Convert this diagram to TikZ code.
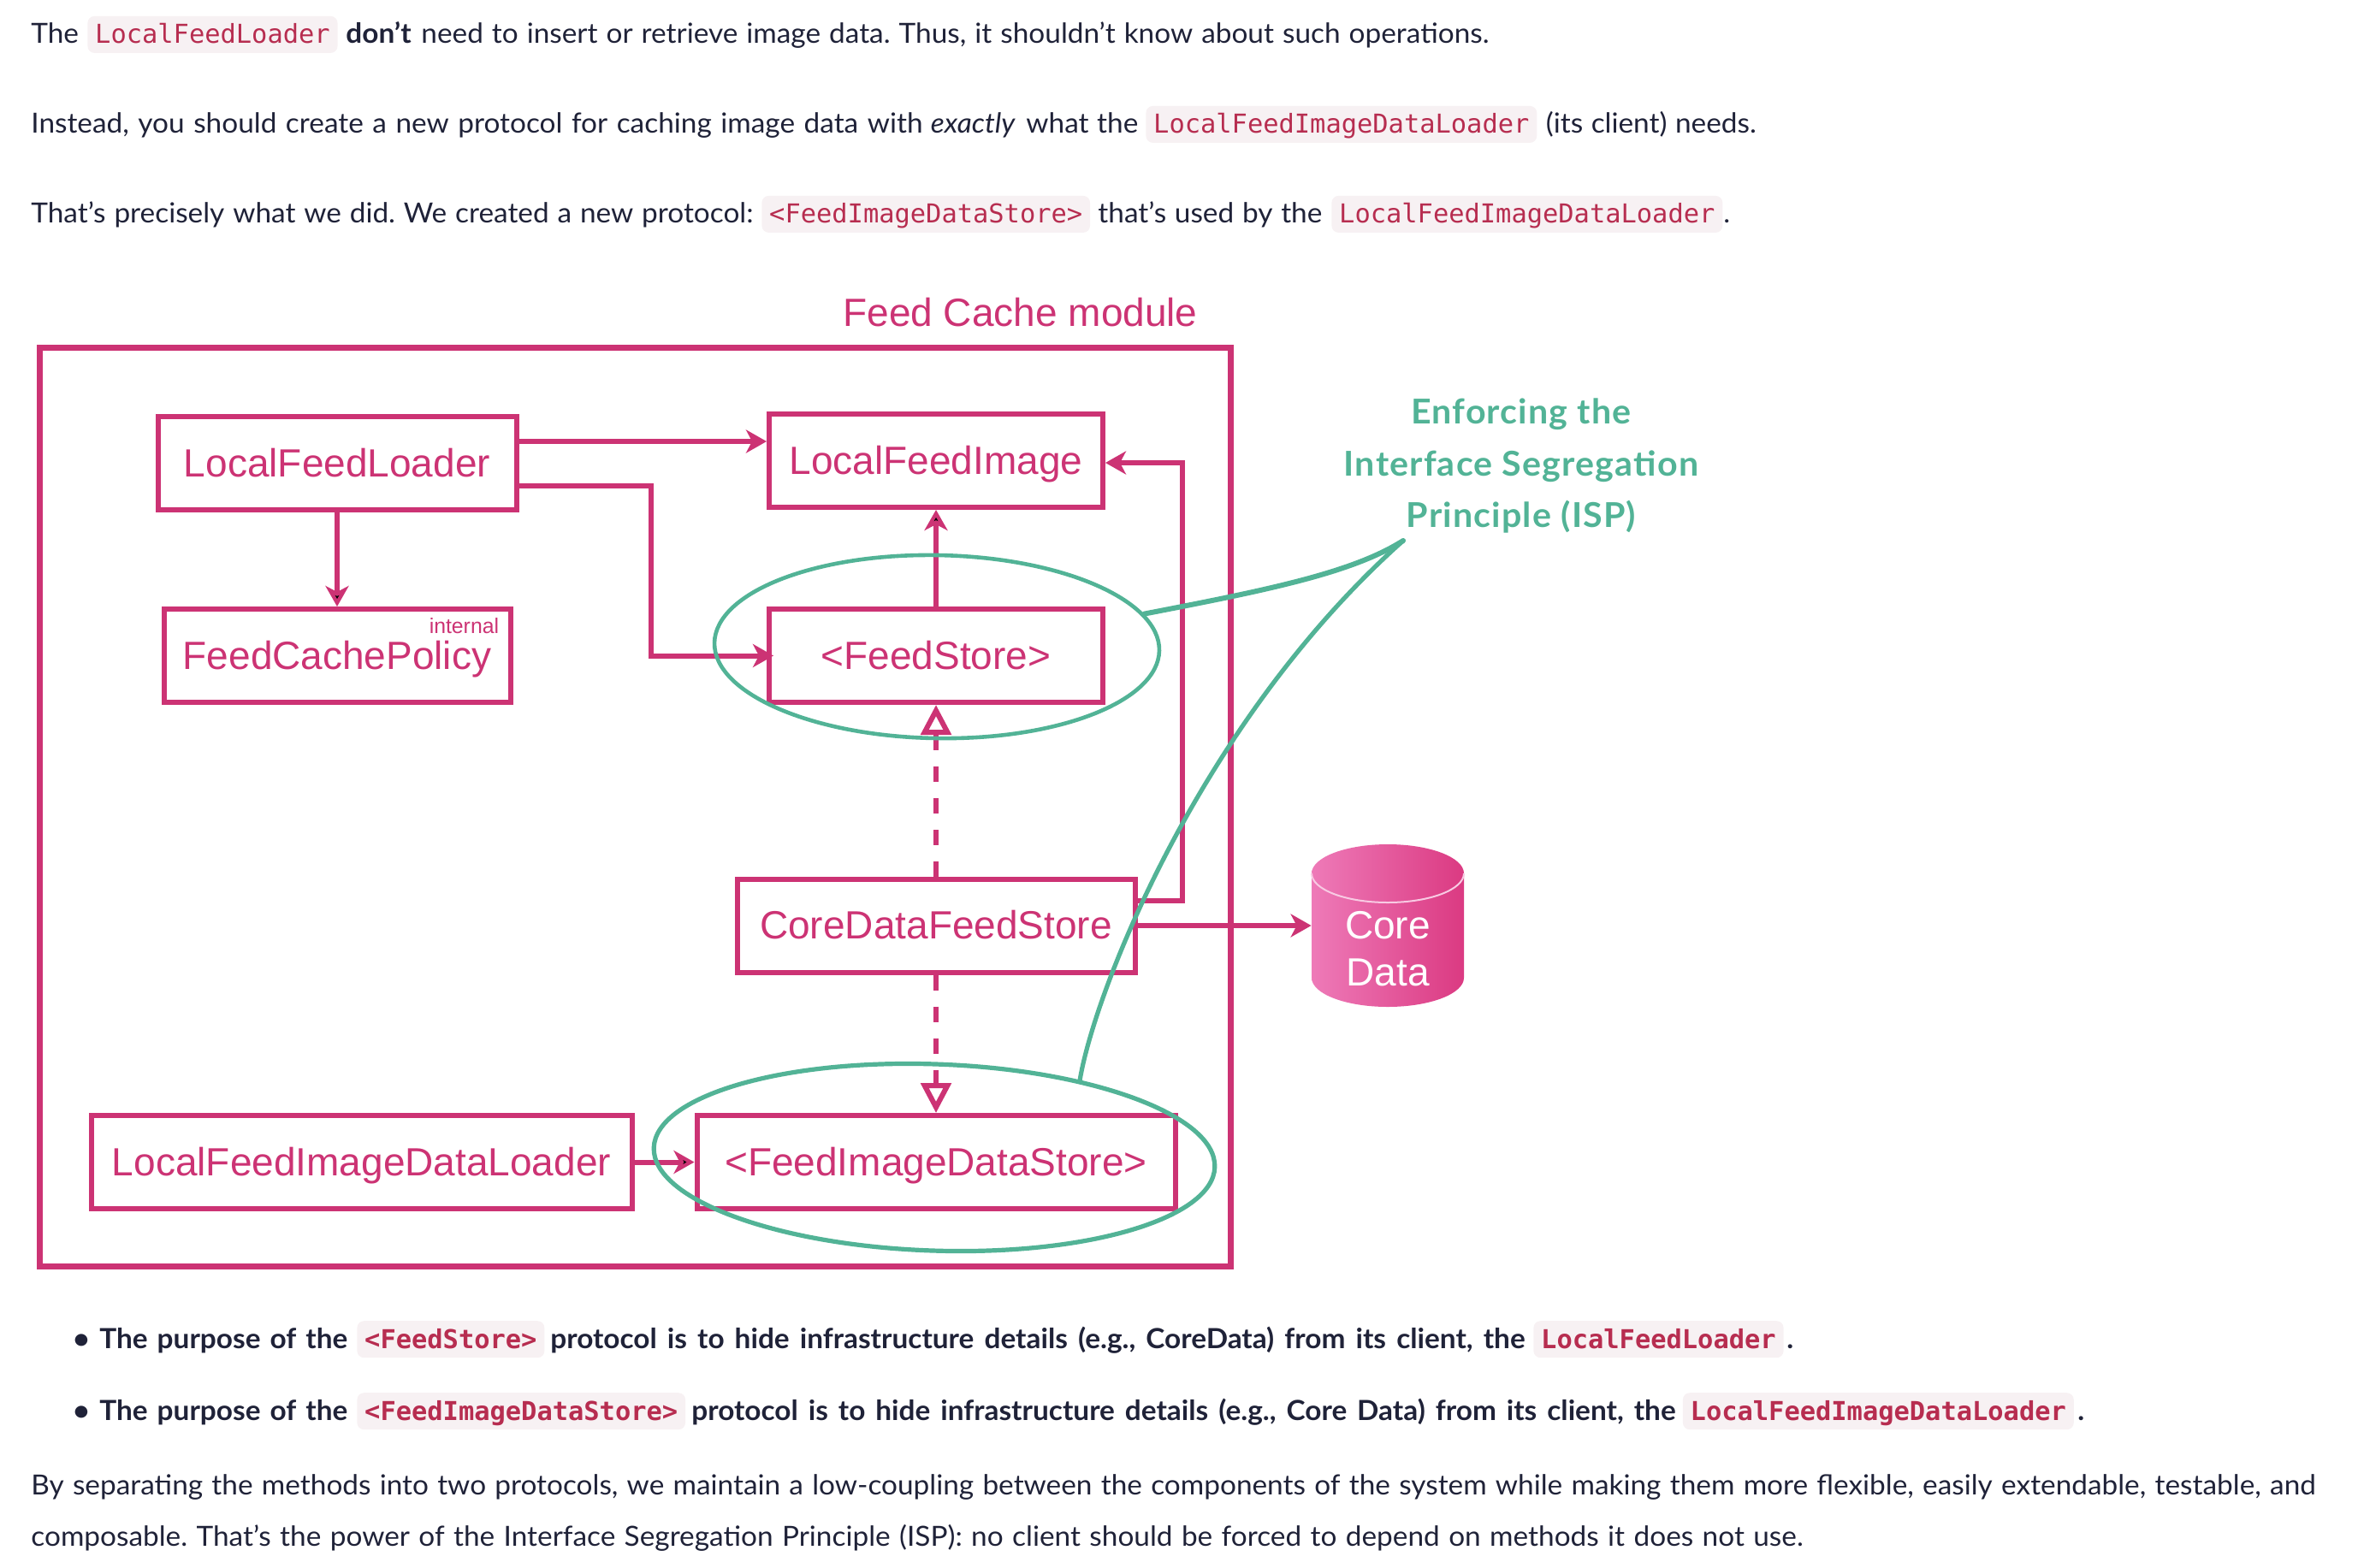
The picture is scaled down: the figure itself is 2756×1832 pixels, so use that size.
\documentclass[tikz,border=0pt]{standalone}
\usepackage{fontspec}
\setmainfont{Lato}[FakeStretch=1.03]
\setmonofont{DejaVu Sans Mono}
\newfontfamily\diagramfont{Liberation Sans}
\usepackage{xcolor}
\usetikzlibrary{arrows.meta,shapes.geometric}
\frenchspacing

\definecolor{feedpink}{HTML}{CC3374}
\definecolor{storelight}{HTML}{EE7AB8}
\definecolor{storedark}{HTML}{DB3A82}
\definecolor{ispgreen}{HTML}{52B396}
\definecolor{inktext}{HTML}{1F2238}
\definecolor{codered}{HTML}{B72D50}
\definecolor{codebg}{HTML}{F7F1F3}

\newcommand{\fitw}[2]{\makebox[\dimexpr #1pt/2\relax][s]{#2}}

\tikzset{
    prose/.style={anchor=base west,inner sep=0pt,text=inktext,font=\fontsize{16.2}{18}\selectfont},
    prosebold/.style={prose,font=\bfseries\fontsize{16.2}{18}\selectfont},
    code/.style={anchor=base west,fill=codebg,rounded corners=4pt,text=codered,inner xsep=4.4pt,inner ysep=2pt,
        text height=13.9pt,text depth=3.6pt,font=\ttfamily\fontsize{15.2}{18}\selectfont},
    codebold/.style={code,font=\ttfamily\bfseries\fontsize{15.2}{18}\selectfont},
    component/.style={rectangle,draw=feedpink,line width=3pt,text=feedpink,inner sep=0pt,minimum height=54.5pt,
        text height=15.5pt,text depth=0pt,font=\diagramfont\fontsize{23}{28}\selectfont},
    ring/.style={ellipse,draw=ispgreen,line width=2.3pt,inner sep=0pt},
    flow/.style={draw=feedpink,line width=3pt,-{Stealth[length=12pt,width=13.5pt,inset=3.5pt]}},
    impl/.style={draw=feedpink,line width=3pt,dash pattern=on 9pt off 9.5pt,-{Triangle[length=17.5pt,width=17.5pt,fill=white]}},
    callout/.style={draw=ispgreen,line cap=round},
    isptext/.style={text=ispgreen,inner sep=0pt,anchor=base,font=\bfseries\fontsize{20}{22}\selectfont\addfontfeature{LetterSpace=2.9}}
}

\begin{document}
\begin{tikzpicture}[x=0.5pt,y=-0.5pt]
    \useasboundingbox (0,0) rectangle (2756,1832);

    \node [prose,name=introa] at (36,50.7) {The};
    \node [code,name=introb] at (102,50.7) {LocalFeedLoader};
    \node [prosebold,name=introc] at (404,50.7) {don’t};
    \node [prose,name=introd] at (492,50.7) {\fitw{1248}{need to insert or retrieve image data. Thus, it shouldn’t know about such operations.}};

    \node [prose,name=insteada] at (36,155.7) {\fitw{1042}{Instead, you should create a new protocol for caching image data with}};
    \node [prose,name=insteadb,font=\itshape\fontsize{16.2}{18}\selectfont] at (1087.5,155.7) {exactly};
    \node [prose,name=insteadc] at (1199,155.7) {\fitw{131}{what the}};
    \node [code,name=insteadd] at (1339,155.7) {LocalFeedImageDataLoader};
    \node [prose,name=insteade] at (1806.5,155.7) {\fitw{246}{(its client) needs.}};

    \node [prose,name=thata] at (36,260.7) {\fitw{844}{That’s precisely what we did. We created a new protocol:}};
    \node [code,name=thatb] at (890,260.7) {<FeedImageDataStore>};
    \node [prose,name=thatc] at (1283,260.7) {\fitw{262}{that’s used by the}};
    \node [code,name=thatd] at (1556,260.7) {LocalFeedImageDataLoader};
    \node [prose,name=thate] at (2014,260.7) {.};

    \node [rectangle,draw=feedpink,line width=3.2pt,inner sep=0pt,minimum width=696pt,minimum height=537pt,name=module] at (742.5,943.5) {};
    \node [anchor=base west,inner sep=0pt,text=feedpink,font=\diagramfont\fontsize{23}{28}\selectfont,name=moduletitle] at (985,381) {Feed Cache module};

    \node [component,minimum width=209.5pt,name=lfl] at (394,541.5) {LocalFeedLoader};
    \node [component,minimum width=195pt,name=lfi] at (1094,538.5) {LocalFeedImage};
    \node [component,minimum width=202.5pt,name=fcp] at (394,766.5) {FeedCachePolicy};
    \node [anchor=base east,inner sep=0pt,text=feedpink,font=\diagramfont\fontsize{12.4}{14}\selectfont,name=internal] at (583.5,740) {internal};
    \node [component,minimum width=195pt,name=fs] at (1094,766.5) {<FeedStore>};
    \node [component,minimum width=232.5pt,name=cdfs] at (1094,1082) {CoreDataFeedStore};
    \node [component,minimum width=316pt,name=lfidl] at (422.5,1358.5) {LocalFeedImageDataLoader};
    \node [component,minimum width=279.5pt,name=fids] at (1094,1358.5) {<FeedImageDataStore>};

    \path [left color=storelight,right color=storedark]
        (1533,1021) arc [start angle=180,end angle=0,x radius=44.5pt,y radius=17pt]
        -- (1711,1143) arc [start angle=0,end angle=-180,x radius=44.5pt,y radius=17pt] -- cycle;
    \draw [white!60!storelight,line width=1pt] (1533,1021) arc [start angle=180,end angle=360,x radius=44.5pt,y radius=17pt];
    \node [rectangle,inner sep=0pt,minimum width=89pt,text=white,align=center,font=\diagramfont\fontsize{23}{27.5}\selectfont,name=cdb] at (1622,1109) {Core\\Data};

    \path[flow] (lfl) edge (fcp)
          (fs) edge (lfi)
          (lfidl) edge (fids);
    \path[impl] (cdfs) edge (fs)
          (cdfs) edge (fids);

    \draw[flow] (cdfs.east) -- (cdfs.east -| cdb.west);
    \draw[flow] ([yshift=12.75pt]lfl.east) -- ([yshift=12.75pt]lfl.east -| lfi.west);
    \draw[flow,shorten >=-4pt] ([yshift=-13pt]lfl.east) -| ([xshift=-67.5pt]fs.west) -- (fs.west);
    \draw[flow] ([yshift=14.5pt]cdfs.east) -| ([xshift=45pt,yshift=-1.25pt]lfi.east) -- ([yshift=-1.25pt]lfi.east);

    \node [ring,minimum width=260pt,minimum height=107pt,rotate=-1,name=fsring] at (1095,756) {};
    \node [ring,line width=2.6pt,minimum width=328pt,minimum height=109pt,rotate=-2,name=fidsring] at (1092,1353) {};

    \node [isptext,name=ispa] at (1778,495) {Enforcing the};
    \node [isptext,name=ispb] at (1778,556) {Interface Segregation};
    \node [isptext,name=ispc] at (1778,616) {Principle (ISP)};
    \coordinate (isptip) at (1640,632);
    \draw[callout,line width=3pt] (fsring.10) .. controls (1480,690) and (1580,670) .. (isptip);
    \draw[callout,line width=2.6pt] (isptip) .. controls (1402,844) and (1279,1160) .. (fidsring.30);

    \node [prosebold,name=bulleta] at (85,1576) {•};
    \node [prosebold,name=purposea] at (116,1576) {\fitw{290}{The purpose of the}};
    \node [codebold,name=purposeb] at (417,1576) {<FeedStore>};
    \node [prosebold,name=purposec] at (643,1576) {\fitw{1139}{protocol is to hide infrastructure details (e.g., CoreData) from its client, the}};
    \node [codebold,name=purposed] at (1792,1576) {LocalFeedLoader};
    \node [prosebold,name=purposee] at (2088,1576) {.};

    \node [prosebold,name=bulletb] at (85,1660) {•};
    \node [prosebold,name=imagea] at (116,1660) {\fitw{290}{The purpose of the}};
    \node [codebold,name=imageb] at (417,1660) {<FeedImageDataStore>};
    \node [prosebold,name=imagec] at (808,1660) {\fitw{1150}{protocol is to hide infrastructure details (e.g., Core Data) from its client, the}};
    \node [codebold,name=imaged] at (1966.5,1660) {LocalFeedImageDataLoader};
    \node [prosebold,name=imagee] at (2428,1660) {.};

    \node [prose,name=closinga] at (36,1747) {\fitw{2670}{By separating the methods into two protocols, we maintain a low-coupling between the components of the system while making them more flexible, easily extendable, testable, and}};
    \node [prose,name=closingb] at (36,1807) {\fitw{2071}{composable. That’s the power of the Interface Segregation Principle (ISP): no client should be forced to depend on methods it does not use.}};
\end{tikzpicture}
\end{document}
